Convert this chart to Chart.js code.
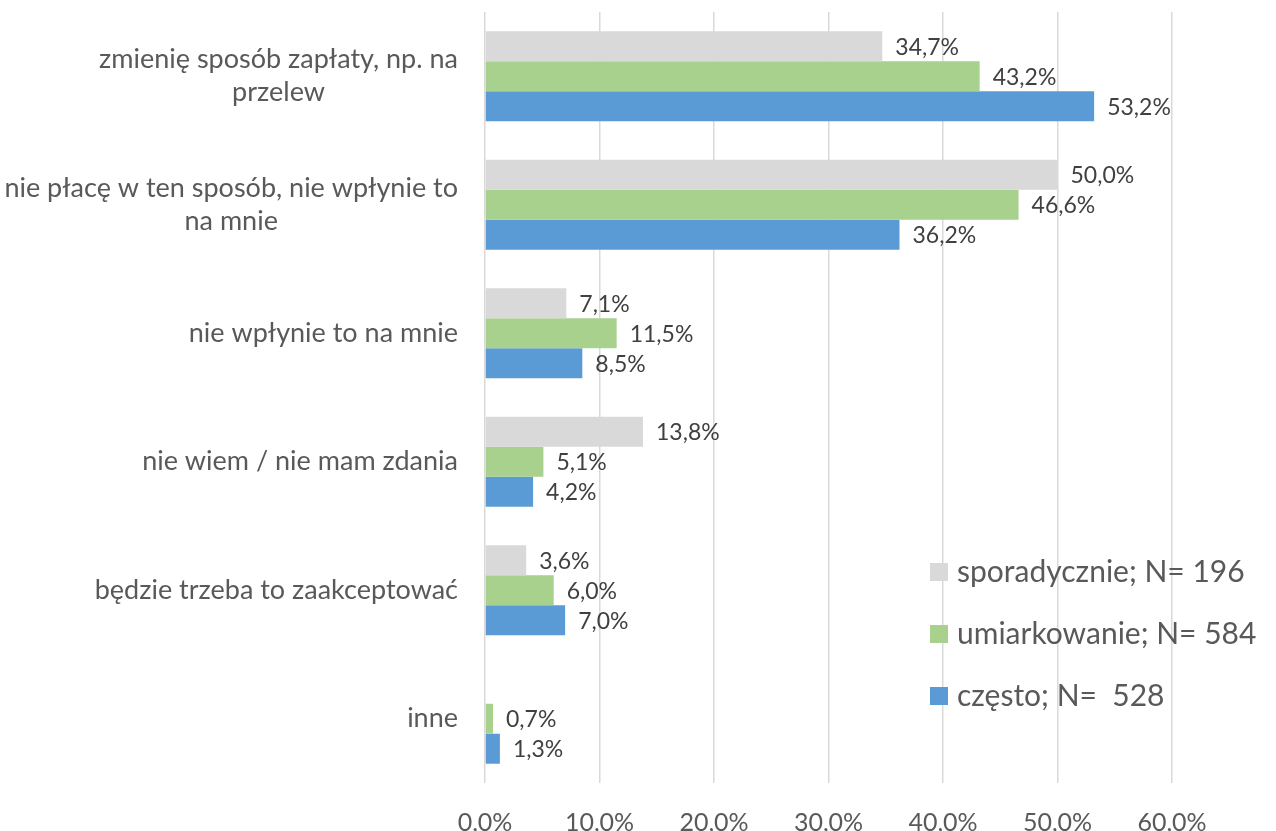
<!DOCTYPE html>
<html>
<head>
<meta charset="utf-8">
<script src="https://cdn.jsdelivr.net/npm/chart.js@4"></script>
<style>
  html, body { margin: 0; padding: 0; background: #fff; }
  #wrap { width: 1276px; height: 831px; }
</style>
</head>
<body>
<div id="wrap"><canvas id="answersChart"></canvas></div>
<script>
const categories = [
  ["zmienię sposób zapłaty, np. na", "przelew"],
  ["nie płacę w ten sposób, nie wpłynie to", "na mnie"],
  ["nie wpłynie to na mnie"],
  ["nie wiem / nie mam zdania"],
  ["będzie trzeba to zaakceptować"],
  ["inne"]
];
const seriesNames = ["sporadycznie; N= 196", "umiarkowanie; N= 584", "często; N=  528"];
const sporadycznie = [34.7, 50.0, 7.1, 13.8, 3.6, 0];
const umiarkowanie = [43.2, 46.6, 11.5, 5.1, 6.0, 0.7];
const czesto = [53.2, 36.2, 8.5, 4.2, 7.0, 1.3];
const xTicks = [0, 10, 20, 30, 40, 50, 60];

const FONT = "Lato, 'Open Sans', sans-serif";
const fmt = v => v.toFixed(1).replace(".", ",") + "%";

// category labels: block right-aligned, lines centred on each other
const categoryLabels = {
  id: "categoryLabels",
  afterDraw(chart) {
    const ctx = chart.ctx;
    const y = chart.scales.y;
    const right = chart.chartArea.left - 27;
    const lh = 33;
    ctx.save();
    ctx.font = "27px " + FONT;
    ctx.fillStyle = "#595959";
    ctx.textAlign = "center";
    ctx.textBaseline = "middle";
    categories.forEach((lines, i) => {
      const cy = y.getPixelForValue(i);
      const w = Math.max(...lines.map(l => ctx.measureText(l).width));
      const cx = right - w / 2;
      const y0 = cy - (lines.length - 1) * lh / 2;
      lines.forEach((l, k) => ctx.fillText(l, cx, y0 + k * lh));
    });
    ctx.restore();
  }
};

// value labels next to each bar
const valueLabels = {
  id: "valueLabels",
  afterDatasetsDraw(chart) {
    const ctx = chart.ctx;
    ctx.save();
    ctx.font = "23px " + FONT;
    ctx.fillStyle = "#404040";
    ctx.textAlign = "left";
    ctx.textBaseline = "middle";
    chart.data.datasets.forEach((ds, di) => {
      chart.getDatasetMeta(di).data.forEach((bar, i) => {
        if (!ds.data[i]) return;
        ctx.fillText(fmt(ds.data[i]), bar.x + 13, bar.y + 1);
      });
    });
    ctx.restore();
  }
};

// legend inside the plot, lower right
const innerLegend = {
  id: "innerLegend",
  afterDraw(chart) {
    const ctx = chart.ctx;
    ctx.save();
    ctx.font = "30px " + FONT;
    ctx.textBaseline = "middle";
    ctx.textAlign = "left";
    chart.data.datasets.forEach((ds, i) => {
      const cy = 572 + i * 62;
      ctx.fillStyle = ds.backgroundColor;
      ctx.fillRect(930, cy - 9, 18, 18);
      ctx.fillStyle = "#595959";
      ctx.fillText(ds.label, 957, cy);
    });
    ctx.restore();
  }
};

new Chart(document.getElementById("answersChart"), {
  type: "bar",
  data: {
    labels: categories.map(c => c.join(" ")),
    datasets: [
      { label: seriesNames[0], data: sporadycznie, backgroundColor: "#D9D9D9" },
      { label: seriesNames[1], data: umiarkowanie, backgroundColor: "#A9D18E" },
      { label: seriesNames[2], data: czesto, backgroundColor: "#5B9BD5" }
    ]
  },
  options: {
    indexAxis: "y",
    responsive: true,
    maintainAspectRatio: false,
    animation: false,
    layout: { padding: { top: 12, right: 104, bottom: 0, left: 10 } },
    datasets: { bar: { categoryPercentage: 0.7, barPercentage: 1.0 } },
    scales: {
      x: {
        min: 0,
        max: 60,
        afterBuildTicks(scale) { scale.ticks = xTicks.map(v => ({ value: v })); },
        afterFit(scale) { scale.height = 48; },
        grid: { color: "#D9D9D9", lineWidth: 1.5, drawTicks: false },
        border: { display: false },
        ticks: {
          padding: 25,
          color: "#595959",
          font: { size: 25, family: FONT },
          callback: v => fmt(v)
        }
      },
      y: {
        afterFit(scale) { scale.width = 475; },
        grid: { display: false },
        border: { display: false },
        ticks: { display: false }
      }
    },
    plugins: {
      legend: { display: false },
      tooltip: { enabled: false },
      title: { display: false }
    }
  },
  plugins: [categoryLabels, valueLabels, innerLegend]
});
</script>
</body>
</html>
